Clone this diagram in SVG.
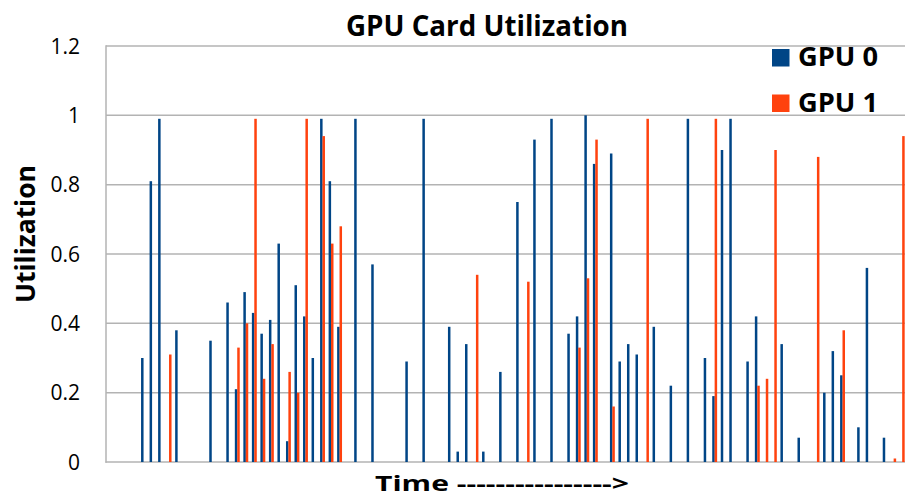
<svg xmlns="http://www.w3.org/2000/svg" width="905" height="497" viewBox="0 0 905 497">
  <style>
    .grid { stroke: #b3b3b3; stroke-width: 1.5; fill: none; }
    .tick { font-family: "Open Sans", "Liberation Sans", sans-serif; font-size: 21px; fill: #000; text-anchor: end; }
    .ttl { font-family: "Open Sans", "Liberation Sans", sans-serif; font-weight: bold; fill: #000; }
    .g0 rect { fill: #004586; }
    .g1 rect { fill: #ff420e; }
  </style>
  <rect width="905" height="497" fill="#ffffff"/>

  <!-- title -->
  <text id="title" class="ttl" x="346" y="36" font-size="29" textLength="282" lengthAdjust="spacingAndGlyphs">GPU Card Utilization</text>

  <!-- grid and axes -->
  <g id="grid">
    <line class="grid" x1="106" y1="46" x2="905" y2="46"/>
    <line class="grid" x1="106" y1="115.3" x2="905" y2="115.3"/>
    <line class="grid" x1="106" y1="184.7" x2="905" y2="184.7"/>
    <line class="grid" x1="106" y1="254" x2="905" y2="254"/>
    <line class="grid" x1="106" y1="323.3" x2="905" y2="323.3"/>
    <line class="grid" x1="106" y1="392.7" x2="905" y2="392.7"/>
    <line class="grid" x1="105.5" y1="462" x2="905" y2="462"/>
    <line class="grid" x1="106" y1="45.3" x2="106" y2="462.7"/>
  </g>

  <!-- y tick labels -->
  <g id="yticks">
    <text class="tick" x="80" y="53.5">1.2</text>
    <text class="tick" x="80" y="122.8">1</text>
    <text class="tick" x="80" y="192.2">0.8</text>
    <text class="tick" x="80" y="261.5">0.6</text>
    <text class="tick" x="80" y="330.8">0.4</text>
    <text class="tick" x="80" y="400.2">0.2</text>
    <text class="tick" x="80" y="469.5">0</text>
  </g>

  <!-- axis titles -->
  <text id="ytitle" class="ttl" font-size="26" transform="translate(35,303) rotate(-90)" textLength="138" lengthAdjust="spacingAndGlyphs">Utilization</text>
  <text id="xtitle" class="ttl" x="375" y="491" font-size="22" textLength="254" lengthAdjust="spacingAndGlyphs">Time ----------------&gt;</text>

  <!-- bars: baseline at y=462, 1.0 = 346.67 px -->
  <g id="series-gpu0" class="g0" transform="translate(0,462) scale(1,-1)">
    <rect x="141.05" y="0" width="2.5" height="104.0"/>
    <rect x="149.58" y="0" width="2.5" height="280.8"/>
    <rect x="158.10" y="0" width="2.5" height="343.2"/>
    <rect x="175.15" y="0" width="2.5" height="131.7"/>
    <rect x="209.25" y="0" width="2.5" height="121.3"/>
    <rect x="226.30" y="0" width="2.5" height="159.5"/>
    <rect x="234.83" y="0" width="2.5" height="72.8"/>
    <rect x="243.35" y="0" width="2.5" height="169.9"/>
    <rect x="251.88" y="0" width="2.5" height="149.1"/>
    <rect x="260.40" y="0" width="2.5" height="128.3"/>
    <rect x="268.93" y="0" width="2.5" height="142.1"/>
    <rect x="277.45" y="0" width="2.5" height="218.4"/>
    <rect x="285.98" y="0" width="2.5" height="20.8"/>
    <rect x="294.50" y="0" width="2.5" height="176.8"/>
    <rect x="303.03" y="0" width="2.5" height="145.6"/>
    <rect x="311.55" y="0" width="2.5" height="104.0"/>
    <rect x="320.08" y="0" width="2.5" height="343.2"/>
    <rect x="328.60" y="0" width="2.5" height="280.8"/>
    <rect x="337.13" y="0" width="2.5" height="135.2"/>
    <rect x="354.18" y="0" width="2.5" height="343.2"/>
    <rect x="371.23" y="0" width="2.5" height="197.6"/>
    <rect x="405.33" y="0" width="2.5" height="100.5"/>
    <rect x="422.38" y="0" width="2.5" height="343.2"/>
    <rect x="447.95" y="0" width="2.5" height="135.2"/>
    <rect x="456.48" y="0" width="2.5" height="10.4"/>
    <rect x="465.00" y="0" width="2.5" height="117.9"/>
    <rect x="482.05" y="0" width="2.5" height="10.4"/>
    <rect x="499.10" y="0" width="2.5" height="90.1"/>
    <rect x="516.15" y="0" width="2.5" height="260.0"/>
    <rect x="533.20" y="0" width="2.5" height="322.4"/>
    <rect x="550.25" y="0" width="2.5" height="343.2"/>
    <rect x="567.30" y="0" width="2.5" height="128.3"/>
    <rect x="575.83" y="0" width="2.5" height="145.6"/>
    <rect x="584.35" y="0" width="2.5" height="346.7"/>
    <rect x="592.88" y="0" width="2.5" height="298.1"/>
    <rect x="609.93" y="0" width="2.5" height="308.5"/>
    <rect x="618.45" y="0" width="2.5" height="100.5"/>
    <rect x="626.98" y="0" width="2.5" height="117.9"/>
    <rect x="635.50" y="0" width="2.5" height="107.5"/>
    <rect x="652.55" y="0" width="2.5" height="135.2"/>
    <rect x="669.60" y="0" width="2.5" height="76.3"/>
    <rect x="686.65" y="0" width="2.5" height="343.2"/>
    <rect x="703.70" y="0" width="2.5" height="104.0"/>
    <rect x="712.23" y="0" width="2.5" height="65.9"/>
    <rect x="720.75" y="0" width="2.5" height="312.0"/>
    <rect x="729.28" y="0" width="2.5" height="343.2"/>
    <rect x="746.33" y="0" width="2.5" height="100.5"/>
    <rect x="754.85" y="0" width="2.5" height="145.6"/>
    <rect x="780.43" y="0" width="2.5" height="117.9"/>
    <rect x="797.48" y="0" width="2.5" height="24.3"/>
    <rect x="823.05" y="0" width="2.5" height="69.3"/>
    <rect x="831.58" y="0" width="2.5" height="110.9"/>
    <rect x="840.10" y="0" width="2.5" height="86.7"/>
    <rect x="857.15" y="0" width="2.5" height="34.7"/>
    <rect x="865.68" y="0" width="2.5" height="194.1"/>
    <rect x="882.73" y="0" width="2.5" height="24.3"/>
  </g>
  <g id="series-gpu1" class="g1" transform="translate(0,462) scale(1,-1)">
    <rect x="169.03" y="0" width="2.5" height="107.5"/>
    <rect x="237.23" y="0" width="2.5" height="114.4"/>
    <rect x="245.75" y="0" width="2.5" height="138.7"/>
    <rect x="254.28" y="0" width="2.5" height="343.2"/>
    <rect x="262.80" y="0" width="2.5" height="83.2"/>
    <rect x="271.33" y="0" width="2.5" height="117.9"/>
    <rect x="288.38" y="0" width="2.5" height="90.1"/>
    <rect x="296.90" y="0" width="2.5" height="69.3"/>
    <rect x="305.43" y="0" width="2.5" height="343.2"/>
    <rect x="322.48" y="0" width="2.5" height="325.9"/>
    <rect x="331.00" y="0" width="2.5" height="218.4"/>
    <rect x="339.53" y="0" width="2.5" height="235.7"/>
    <rect x="475.93" y="0" width="2.5" height="187.2"/>
    <rect x="527.08" y="0" width="2.5" height="180.3"/>
    <rect x="578.23" y="0" width="2.5" height="114.4"/>
    <rect x="586.75" y="0" width="2.5" height="183.7"/>
    <rect x="595.28" y="0" width="2.5" height="322.4"/>
    <rect x="612.33" y="0" width="2.5" height="55.5"/>
    <rect x="646.43" y="0" width="2.5" height="343.2"/>
    <rect x="714.63" y="0" width="2.5" height="343.2"/>
    <rect x="757.25" y="0" width="2.5" height="76.3"/>
    <rect x="765.78" y="0" width="2.5" height="83.2"/>
    <rect x="774.30" y="0" width="2.5" height="312.0"/>
    <rect x="816.93" y="0" width="2.5" height="305.1"/>
    <rect x="842.50" y="0" width="2.5" height="131.7"/>
    <rect x="893.65" y="0" width="2.5" height="3.5"/>
    <rect x="902.18" y="0" width="2.5" height="325.9"/>
  </g>

  <!-- legend -->
  <g id="legend-gpu0">
    <rect x="772" y="49" width="17.5" height="17.5" fill="#004586"/>
    <text class="ttl" x="798" y="66" font-size="26" textLength="80" lengthAdjust="spacingAndGlyphs">GPU 0</text>
  </g>
  <g id="legend-gpu1">
    <rect x="772" y="94.5" width="17.5" height="17.5" fill="#ff420e"/>
    <text class="ttl" x="798" y="111.5" font-size="26" textLength="80" lengthAdjust="spacingAndGlyphs">GPU 1</text>
  </g>
</svg>
